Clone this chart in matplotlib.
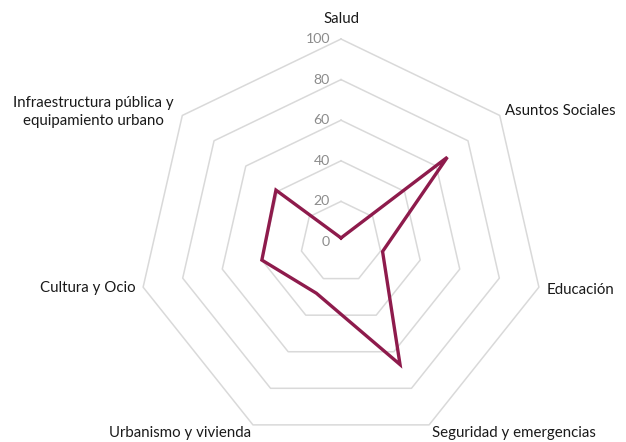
import numpy as np
import matplotlib.pyplot as plt

plt.rcParams['font.family'] = ['Lato', 'DejaVu Sans']

categorias = ['Salud', 'Asuntos Sociales', 'Educación', 'Seguridad y emergencias',
              'Urbanismo y vivienda', 'Cultura y Ocio',
              'Infraestructura pública y\nequipamiento urbano']
valores = [2, 67, 21, 67, 28, 40, 41]
niveles = [0, 20, 40, 60, 80, 100]

n = len(categorias)
# primer eje arriba, sentido horario
angulos = np.pi / 2 - np.arange(n) * 2 * np.pi / n


def a_xy(r, ang):
    return np.asarray(r) * np.cos(ang), np.asarray(r) * np.sin(ang)


fig = plt.figure(figsize=(6.26, 4.42), dpi=100)
ax = fig.add_axes([0, 0, 1, 1])
ax.set_xlim(-168, 140.4)
ax.set_ylim(-98.5, 119.2)
ax.set_aspect('equal')
ax.axis('off')

# anillos de la rejilla (heptágonos)
ang_cerr = np.append(angulos, angulos[0])
for nv in niveles[1:]:
    x, y = a_xy(np.full(n + 1, nv), ang_cerr)
    ax.plot(x, y, color='#d9d9d9', lw=1.1, zorder=1)
for nv in niveles:
    ax.text(-5.5, nv, str(nv), ha='right', va='center', fontsize=10.2, color='#8c8c8c')

# serie
x, y = a_xy(np.append(valores, valores[0]), ang_cerr)
ax.plot(x, y, color='#8e1b4c', lw=2.4, solid_joinstyle='miter', zorder=3)

# etiquetas de categoría
vx, vy = a_xy(np.full(n, 100), angulos)
estilo = [
    (0, 10, 'center'),
    (2.4, 2.2, 'left'),
    (4, -1.3, 'left'),
    (1.4, -4, 'left'),
    (-1, -4, 'right'),
    (-3.5, -0.5, 'right'),
    (-44, 1.6, 'center'),
]
for i, (dx, dy, ha) in enumerate(estilo):
    ax.text(vx[i] + dx, vy[i] + dy, categorias[i], ha=ha, va='center',
            fontsize=10.8, color='#1a1a1a', multialignment='center', linespacing=1.4)

fig.savefig('out.png', dpi=100)
